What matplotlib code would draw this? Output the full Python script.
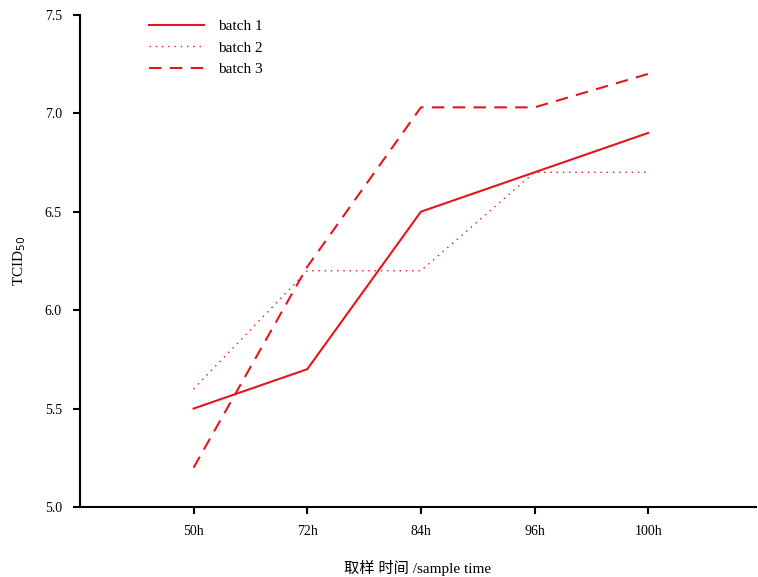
import matplotlib.pyplot as plt
from matplotlib import rcParams

rcParams['font.family'] = ['Liberation Serif', 'Noto Sans CJK SC']
rcParams['font.size'] = 10

times = ['50h', '72h', '84h', '96h', '100h']
batch1 = [5.5, 5.7, 6.5, 6.7, 6.9]
batch2 = [5.6, 6.2, 6.2, 6.7, 6.7]
batch3 = [5.2, 6.22, 7.03, 7.03, 7.2]
yticks = [5.0, 5.5, 6.0, 6.5, 7.0, 7.5]

fig = plt.figure(figsize=(7.58, 5.77), dpi=100)
ax = fig.add_axes([0.1055, 0.1213, 0.892, 0.853])

x = range(len(times))
ax.plot(x, batch1, '-', color='#e8141c', lw=1.5, label='batch 1')
ax.plot(x, batch2, ':', color='#e8141c', lw=1.0, dashes=(1, 3.5), label='batch 2')
ax.plot(x, batch3, '--', color='#e8141c', lw=1.5, dashes=(6, 4), label='batch 3')

ax.set_xlim(-1, 4.95)
ax.set_ylim(5.0, 7.5)
ax.set_xticks(list(x))
ax.set_xticklabels(times)
ax.set_yticks(yticks)
ax.set_yticklabels(['%.1f' % v for v in yticks])

for s in ['top', 'right']:
    ax.spines[s].set_visible(False)
for s in ['left', 'bottom']:
    ax.spines[s].set_linewidth(1.5)
ax.tick_params(direction='out', width=1.5, length=5, pad=8)

ax.set_ylabel('TCID$_{50}$', labelpad=12, fontsize=11)
ax.set_xlabel('取样 时间 /sample time', labelpad=16, fontsize=11)

ax.legend(loc='upper left', bbox_to_anchor=(0.082, 1.018), frameon=False,
          fontsize=11, handlelength=3.6, handletextpad=0.9, labelspacing=0.5)

fig.savefig('out.png', dpi=100)
